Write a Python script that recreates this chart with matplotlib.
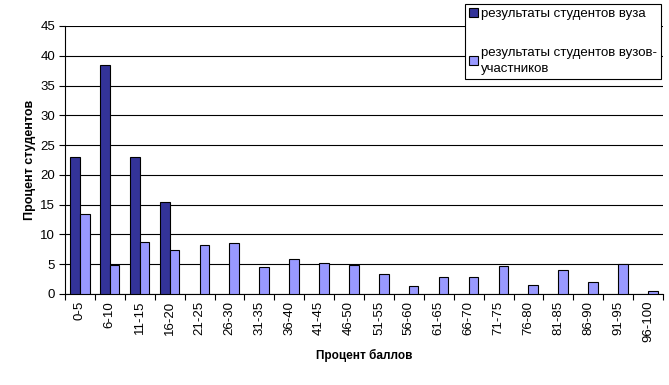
import numpy as np
import matplotlib
matplotlib.use('Agg')
import matplotlib.pyplot as plt

plt.rcParams['font.family'] = ['Liberation Sans', 'DejaVu Sans']

categories = ['0-5', '6-10', '11-15', '16-20', '21-25', '26-30', '31-35', '36-40',
              '41-45', '46-50', '51-55', '56-60', '61-65', '66-70', '71-75', '76-80',
              '81-85', '86-90', '91-95', '96-100']
own = [23, 38.5, 23, 15.4, 0, 0, 0, 0, 0, 0, 0, 0, 0, 0, 0, 0, 0, 0, 0, 0]
others = [13.5, 4.8, 8.7, 7.4, 8.3, 8.5, 4.5, 5.8, 5.15, 4.8, 3.3, 1.35, 2.8, 2.8,
          4.65, 1.45, 4.1, 1.95, 5.0, 0.45]
label_own = 'результаты студентов вуза'
label_others = 'результаты студентов вузов-\nучастников'

fig = plt.figure(figsize=(6.69, 3.85), dpi=100)
ax = fig.add_axes([65/669, 1-294/385, 598/669, 268/385])

x = np.arange(len(categories))
w = 0.32
own_plot = [v if v > 0 else np.nan for v in own]
b1 = ax.bar(x - w/2, own_plot, w, color='#333399', edgecolor='black', linewidth=0.8,
            label=label_own, zorder=3)
b2 = ax.bar(x + w/2, others, w, color='#9999ff', edgecolor='black', linewidth=0.8,
            label=label_others, zorder=3)

ax.set_xlim(-0.5, len(categories) - 0.5)
ax.set_ylim(0, 45)
ax.set_yticks(np.arange(0, 46, 5))
ax.yaxis.grid(True, color='black', linewidth=0.8, zorder=0)
ax.set_axisbelow(True)
for s in ['top', 'right']:
    ax.spines[s].set_visible(False)
ax.spines['left'].set_linewidth(0.8)
ax.spines['bottom'].set_linewidth(0.8)

ax.set_xticks(np.arange(len(categories) + 1) - 0.5)
ax.set_xticklabels([])
ax.set_xticks(x, minor=True)
ax.set_xticklabels(categories, minor=True, rotation=90, fontsize=9.5)
ax.tick_params(axis='x', which='minor', length=0, pad=5)
ax.tick_params(axis='x', which='major', length=4, width=0.8, direction='out')
ax.tick_params(axis='y', length=4, width=0.8, labelsize=9.5, pad=3)

ax.set_ylabel('Процент студентов', fontsize=9, fontweight='bold', labelpad=3)
ax.set_xlabel('Процент баллов', fontsize=8.5, fontweight='bold', labelpad=5)

leg = fig.legend(handles=[b1, b2], loc='upper left', bbox_to_anchor=(465/669, 1-4/385),
                 fontsize=9.5, frameon=True, fancybox=False, edgecolor='black',
                 framealpha=1, handlelength=0.7, handleheight=0.7, handletextpad=0.2,
                 labelspacing=2.0, borderpad=0.3, borderaxespad=0)
leg.get_frame().set_linewidth(0.8)
for t in leg.get_texts():
    t.set_linespacing(1.45)

fig.savefig('out.png', dpi=100)
